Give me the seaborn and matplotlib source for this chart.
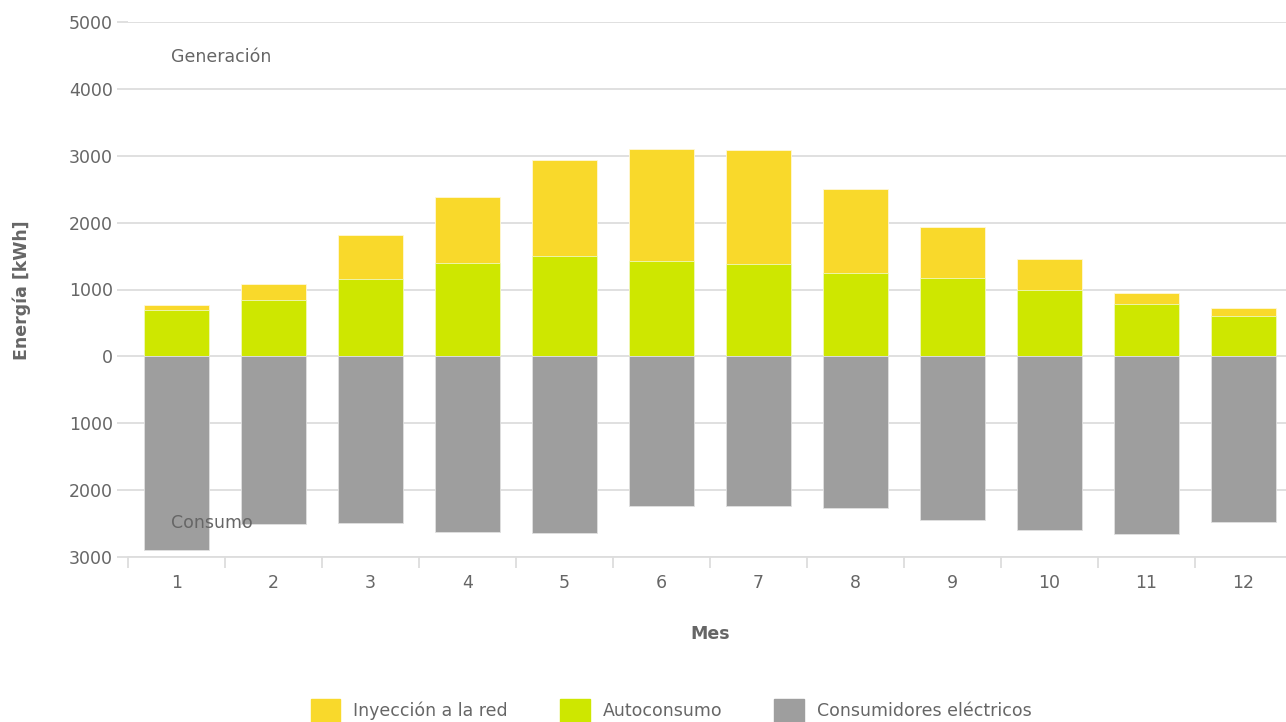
import numpy as np
import pandas as pd
import seaborn as sns
import matplotlib.pyplot as plt
from matplotlib.patches import Patch
from matplotlib.ticker import FuncFormatter, FixedLocator

meses = [str(m) for m in range(1, 13)]
autoconsumo = [700, 850, 1150, 1390, 1500, 1420, 1380, 1245, 1175, 990, 790, 610]
inyeccion = [75, 225, 660, 1000, 1435, 1675, 1705, 1265, 755, 465, 160, 120]
consumidores = [2900, 2500, 2490, 2630, 2640, 2230, 2230, 2260, 2440, 2590, 2655, 2470]

col_iny = '#F9D92B'
col_auto = '#CEE700'
col_cons = '#9E9E9E'
col_text = '#666666'
col_grid = '#DDDDDD'

df = pd.DataFrame({
    'mes': meses,
    'auto': autoconsumo,
    'iny': inyeccion,
    'cons': consumidores,
})
df['gen'] = df['auto'] + df['iny']
df['cons_neg'] = -df['cons']

sns.set_style('white')
plt.rcParams['font.family'] = ['DejaVu Sans']

fig = plt.figure(figsize=(12.86, 7.22), dpi=100)
ax = fig.add_axes([128 / 1286, 165 / 722, 1164 / 1286, 535 / 722])

bw = 0.67
sns.barplot(data=df, x='mes', y='gen', color=col_iny, width=bw, saturation=1,
            order=meses, ax=ax, zorder=2, edgecolor='#FFF8D8', linewidth=0.6)
sns.barplot(data=df, x='mes', y='auto', color=col_auto, width=bw, saturation=1,
            order=meses, ax=ax, zorder=3, edgecolor='#F0F8C0', linewidth=0.6)
sns.barplot(data=df, x='mes', y='cons_neg', color=col_cons, width=bw, saturation=1,
            order=meses, ax=ax, zorder=3, edgecolor='#E0E0E0', linewidth=0.6)

ax.set_ylim(-3000, 5000)
ax.set_xlim(-0.5, 11.5)
ax.set_yticks(np.arange(-3000, 5001, 1000))
ax.yaxis.set_major_formatter(FuncFormatter(lambda v, p: '%d' % abs(v)))
ax.grid(axis='y', color=col_grid, linewidth=1.3, zorder=0)
ax.set_axisbelow(True)
for s in ax.spines.values():
    s.set_visible(False)

# tick marks between the month bands
ax.xaxis.set_minor_locator(FixedLocator(np.arange(-0.5, 12, 1)))
ax.tick_params(axis='x', which='major', bottom=False, length=0, labelsize=12.5,
               labelcolor=col_text, pad=12)
ax.tick_params(axis='x', which='minor', bottom=True, length=8, color=col_grid, width=1.3)
ax.tick_params(axis='y', which='major', left=True, length=8, color=col_grid, width=1.3,
               labelsize=12.5, labelcolor=col_text, pad=3)
ax.axhline(-3000, color=col_grid, linewidth=1.3, zorder=1, clip_on=False)
ax.set_xlabel('')
ax.set_ylabel('')

ax.text(43 / 1164, 0.935, 'Generación', transform=ax.transAxes, fontsize=12.5,
        color=col_text, va='center', ha='left')
ax.text(43 / 1164, 0.064, 'Consumo', transform=ax.transAxes, fontsize=12.5,
        color=col_text, va='center', ha='left', zorder=5)

fig.text(22 / 1286, 0.598, 'Energía [kWh]', rotation=90, fontsize=12.5,
         fontweight='bold', color=col_text, ha='center', va='center')
fig.text(710 / 1286, 0.122, 'Mes', fontsize=12.5, fontweight='bold',
         color=col_text, ha='center', va='center')

handles = [Patch(color=col_iny, label='Inyección a la red'),
           Patch(color=col_auto, label='Autoconsumo'),
           Patch(color=col_cons, label='Consumidores eléctricos')]
leg = fig.legend(handles=handles, loc='center', bbox_to_anchor=(0.522, 0.016),
                 ncol=3, frameon=False, fontsize=12.5, handlelength=1.7,
                 handleheight=1.7, columnspacing=3.0, handletextpad=0.75)
for t in leg.get_texts():
    t.set_color(col_text)

fig.savefig('out.png', dpi=100)
